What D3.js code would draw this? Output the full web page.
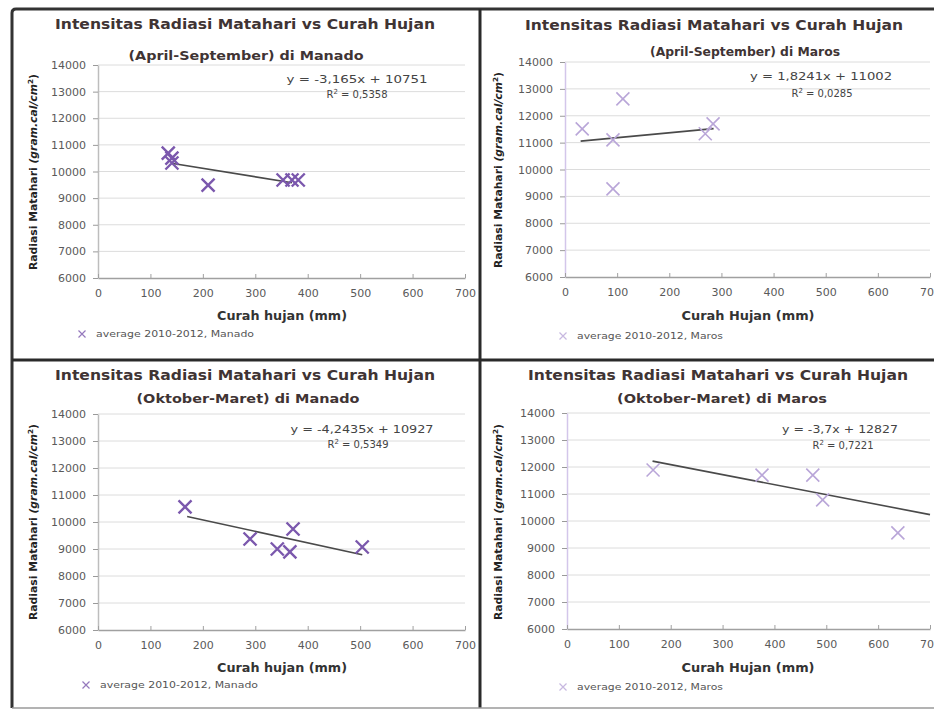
<!DOCTYPE html>
<html><head><meta charset="utf-8">
<script src="https://cdn.jsdelivr.net/npm/d3@7"></script>
<style>
body{margin:0;background:#fff}
svg{display:block}
text{font-family:"DejaVu Sans","Liberation Sans",sans-serif}
</style>
</head><body>
<svg id="chart" width="934" height="711"></svg>
<script>
// ---------------- DATA ----------------
const xTicks = [0, 100, 200, 300, 400, 500, 600, 700];
const yTicks = [6000, 7000, 8000, 9000, 10000, 11000, 12000, 13000, 14000];
const titleLine1 = "Intensitas Radiasi Matahari  vs Curah Hujan";
const subtitles = ["(April-September) di Manado", "(April-September) di Maros", "(Oktober-Maret) di Manado", "(Oktober-Maret) di Maros"];
const xTitles = ["Curah hujan (mm)", "Curah Hujan (mm)", "Curah hujan (mm)", "Curah Hujan (mm)"];
const yTitleMain = "Radiasi Matahari ";
const yTitleUnit = "(gram.cal/cm";
const legendLabels = ["average 2010-2012, Manado", "average 2010-2012, Maros", "average 2010-2012, Manado", "average 2010-2012, Maros"];
const equations = ["y = -3,165x + 10751", "y = 1,8241x + 11002", "y = -4,2435x + 10927", "y = -3,7x + 12827"];
const rSquaredValues = ["0,5358", "0,0285", "0,5349", "0,7221"];
const slopes = [-3.165, 1.8241, -4.2435, -3.7];
const intercepts = [10751, 11002, 10927, 12827];
const trendFrom = [140, 30, 170, 165];
const trendTo = [370, 285, 504, 700];

const rainManadoAprSep = [134, 141, 141, 210, 353, 370, 382];
const radManadoAprSep  = [10690, 10500, 10320, 9490, 9680, 9680, 9680];
const rainMarosAprSep  = [33, 111, 92, 284, 269, 92];
const radMarosAprSep   = [11510, 12630, 11100, 11700, 11330, 9280];
const rainManadoOktMar = [166, 290, 342, 366, 372, 504];
const radManadoOktMar  = [10560, 9370, 9000, 8890, 9740, 9075];
const rainMarosOktMar  = [166, 376, 474, 493, 638];
const radMarosOktMar   = [11890, 11700, 11700, 10780, 9560];

const seriesRain = [rainManadoAprSep, rainMarosAprSep, rainManadoOktMar, rainMarosOktMar];
const seriesRad  = [radManadoAprSep, radMarosAprSep, radManadoOktMar, radMarosOktMar];

// ---------------- LAYOUT ----------------
const layout = [
  {x0:98,  x1:465, y0:278, y1:65,  t1:[245,24], t1len:380, t2:[246,55], t2len:235, eq:[357,79], eqlen:141, r2:[357,94], yt:[33,172], xt:[282,316], xtlen:130, leg:[82,334], leglen:158, mark:"#7b58ad", mw:2.4, yAxisColor:"#bdbdbd"},
  {x0:565, x1:930, y0:277, y1:62,  t1:[714,25], t1len:378, t2:[745,52], t2len:190, eq:[821,76], eqlen:142, r2:[822,93], yt:[498,170], xt:[748,316], xtlen:133, leg:[563,336], leglen:146, mark:"#b9a6d8", mw:1.6, yAxisColor:"#d3c6ea"},
  {x0:98,  x1:465, y0:630, y1:414, t1:[245,375], t1len:380, t2:[248,398], t2len:223, eq:[362,429], eqlen:143, r2:[358,444], yt:[33,522], xt:[282,668], xtlen:130, leg:[86,685], leglen:158, mark:"#7b58ad", mw:2.4, yAxisColor:"#bdbdbd"},
  {x0:567, x1:930, y0:629, y1:413, t1:[718,375], t1len:380, t2:[722,398], t2len:210, eq:[840,429], eqlen:116, r2:[843,445], yt:[498,522], xt:[748,668], xtlen:133, leg:[563,687], leglen:146, mark:"#b9a6d8", mw:1.6, yAxisColor:"#d3c6ea"}
];

const svg = d3.select("#chart");
svg.append("rect").attr("width",934).attr("height",711).attr("fill","#fff");

const crossPath = s => `M${-s},${-s}L${s},${s}M${-s},${s}L${s},${-s}`;

layout.forEach((L, i) => {
  const g = svg.append("g");
  const x = d3.scaleLinear().domain([0, 700]).range([L.x0, L.x1]);
  const y = d3.scaleLinear().domain([6000, 14000]).range([L.y0, L.y1]);

  // gridlines
  g.append("g").selectAll("line").data(yTicks.filter(v => v > 6000)).join("line")
    .attr("x1", L.x0).attr("x2", L.x1)
    .attr("y1", d => y(d)).attr("y2", d => y(d))
    .attr("stroke", "#dcdcdc").attr("stroke-width", 1);

  // y axis
  const ya = g.append("g").attr("transform", `translate(${L.x0},0)`)
    .call(d3.axisLeft(y).tickValues(yTicks).tickFormat(d3.format("d")).tickSizeInner(5).tickSizeOuter(0).tickPadding(7));
  ya.select(".domain").attr("stroke", L.yAxisColor).attr("stroke-width", 1.5);
  ya.selectAll(".tick line").attr("stroke", "#9a9a9a");
  ya.selectAll("text").attr("fill", "#5a5a5a").style("font-size", "11px");

  // x axis
  const xa = g.append("g").attr("transform", `translate(0,${L.y0})`)
    .call(d3.axisBottom(x).tickValues(xTicks).tickFormat(d3.format("d")).tickSizeInner(-4).tickSizeOuter(0).tickPadding(11));
  xa.select(".domain").attr("stroke", "#a0a0a0").attr("stroke-width", 1.5);
  xa.selectAll(".tick line").attr("stroke", "#a0a0a0");
  xa.selectAll("text").attr("fill", "#5a5a5a").style("font-size", "11px");

  // titles
  g.append("text").attr("x", L.t1[0]).attr("y", L.t1[1]).attr("dy", "0.35em")
    .attr("text-anchor", "middle").attr("font-weight", "bold").attr("fill", "#3f3434")
    .style("font-size", "14px").attr("textLength", L.t1len).attr("lengthAdjust", "spacingAndGlyphs")
    .text(titleLine1);
  g.append("text").attr("x", L.t2[0]).attr("y", L.t2[1]).attr("dy", "0.35em")
    .attr("text-anchor", "middle").attr("font-weight", "bold").attr("fill", "#3f3434")
    .style("font-size", i === 1 ? "12px" : "13px").attr("textLength", L.t2len).attr("lengthAdjust", "spacingAndGlyphs")
    .text(subtitles[i]);

  // y title (rotated)
  const yt = g.append("text")
    .attr("transform", `translate(${L.yt[0]},${L.yt[1]}) rotate(-90)`)
    .attr("dy", "0.35em").attr("text-anchor", "middle").attr("font-weight", "bold")
    .attr("fill", "#222").style("font-size", "10.5px")
    .attr("textLength", 196).attr("lengthAdjust", "spacingAndGlyphs");
  yt.append("tspan").text(yTitleMain);
  yt.append("tspan").attr("font-style", "italic").text(yTitleUnit);
  yt.append("tspan").attr("baseline-shift", "super").style("font-size", "7px").text("2");
  yt.append("tspan").text(")");

  // x title
  g.append("text").attr("x", L.xt[0]).attr("y", L.xt[1]).attr("dy", "0.35em")
    .attr("text-anchor", "middle").attr("font-weight", "bold").attr("fill", "#333")
    .style("font-size", "11.5px").attr("textLength", L.xtlen).attr("lengthAdjust", "spacingAndGlyphs")
    .text(xTitles[i]);

  // trend line
  const trend = [trendFrom[i], trendTo[i]].map(v => [v, slopes[i] * v + intercepts[i]]);
  g.append("path").datum(trend)
    .attr("d", d3.line().x(d => x(d[0])).y(d => y(d[1])))
    .attr("stroke", "#4a4a4a").attr("stroke-width", 1.6).attr("fill", "none");

  // markers
  const pts = seriesRain[i].map((r, k) => [r, seriesRad[i][k]]);
  g.append("g").selectAll("path").data(pts).join("path")
    .attr("transform", d => `translate(${x(d[0])},${y(d[1])})`)
    .attr("d", crossPath(6.5))
    .attr("stroke", L.mark).attr("stroke-width", L.mw).attr("fill", "none");

  // equation
  g.append("text").attr("x", L.eq[0]).attr("y", L.eq[1]).attr("dy", "0.35em")
    .attr("text-anchor", "middle").attr("fill", "#444").style("font-size", "10px")
    .attr("textLength", L.eqlen).attr("lengthAdjust", "spacingAndGlyphs")
    .text(equations[i]);
  const r2 = g.append("text").attr("x", L.r2[0]).attr("y", L.r2[1]).attr("dy", "0.35em")
    .attr("text-anchor", "middle").attr("fill", "#444").style("font-size", "10px");
  r2.append("tspan").text("R");
  r2.append("tspan").attr("baseline-shift", "super").style("font-size", "7px").text("2");
  r2.append("tspan").text(" = " + rSquaredValues[i]);

  // legend
  g.append("path").attr("transform", `translate(${L.leg[0]},${L.leg[1]})`)
    .attr("d", crossPath(3.5)).attr("stroke", L.mark).attr("stroke-width", 1.2).attr("fill", "none").attr("opacity", 0.8);
  g.append("text").attr("x", L.leg[0] + 14).attr("y", L.leg[1]).attr("dy", "0.35em")
    .attr("fill", "#555").style("font-size", "9px")
    .attr("textLength", L.leglen).attr("lengthAdjust", "spacingAndGlyphs")
    .text(legendLabels[i]);
});

// frame / table borders
const frame = svg.append("g").attr("fill", "none");
frame.append("path").attr("d", "M12,708 L12,13 Q12,9 16,9 L934,9").attr("stroke", "#333").attr("stroke-width", 3);
frame.append("line").attr("x1", 480).attr("x2", 480).attr("y1", 9).attr("y2", 708).attr("stroke", "#2a2a2a").attr("stroke-width", 3);
frame.append("line").attr("x1", 12).attr("x2", 934).attr("y1", 360).attr("y2", 360).attr("stroke", "#2a2a2a").attr("stroke-width", 3);
frame.append("line").attr("x1", 12).attr("x2", 934).attr("y1", 708).attr("y2", 708).attr("stroke", "#9a9a9a").attr("stroke-width", 1.5);
</script>
</body></html>
